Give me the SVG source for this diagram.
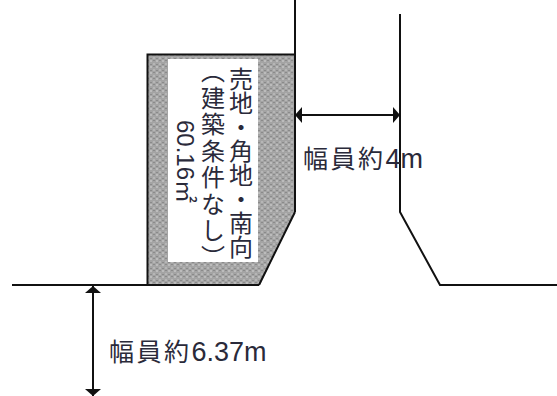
<svg xmlns="http://www.w3.org/2000/svg" width="557" height="396" viewBox="0 0 557 396">
<style>
.ln{fill:none;stroke:#111;stroke-width:2}
.t{font-family:"Noto Sans CJK JP","Liberation Sans",sans-serif;fill:#2a2a3a}
.v{font-size:24px;writing-mode:vertical-rl}
.h{font-size:25px;letter-spacing:2.5px}
.lat{font-family:"Liberation Sans",sans-serif;font-size:27px;letter-spacing:0}
</style>
<defs>
<pattern id="g" width="6" height="6" patternUnits="userSpaceOnUse">
<rect width="6" height="6" fill="#a4a4a4"/>
<rect x="0" y="0" width="2" height="2" fill="#bcbcbc"/>
<rect x="3" y="3" width="2" height="2" fill="#b6b6b6"/>
<rect x="3" y="0" width="2" height="1" fill="#8a8a8a"/>
<rect x="0" y="4" width="2" height="1" fill="#8a8a8a"/>
</pattern>
<marker id="a" viewBox="0 0 7 16" refX="7" refY="8" markerWidth="7" markerHeight="16" markerUnits="userSpaceOnUse" orient="auto-start-reverse"><path d="M0,0L7,8L0,16z" fill="#111"/></marker>
</defs>
<g id="lot">
<polygon points="148,55 295,55 295,212 260,285 148,285" fill="url(#g)"/>
<rect x="168" y="59" width="90" height="203" fill="#fff"/>
<path class="ln" d="M295,212L259,285M147.500,285V54.500H295"/>
<text class="t v" x="241" y="67">売地・角地・南向</text>
<text class="t v" x="213" y="59" letter-spacing="2.500">（建築条件なし）</text>
<text class="t" font-size="23" transform="translate(177,120) rotate(90)"><tspan class="lat" style="font-size:24px">60.16</tspan>㎡</text>
</g>
<g id="roads">
<path class="ln" d="M295,0V212M12,285H259"/>
<path class="ln" d="M400,14V212L440,285H557"/>
</g>
<g id="connectors">
<path class="ln" d="M295,115H400" marker-start="url(#a)" marker-end="url(#a)"/>
<path class="ln" d="M93,286V396" marker-start="url(#a)" marker-end="url(#a)"/>
</g>
<g id="labels">
<text class="t h" x="303" y="168">幅員約<tspan class="lat">4m</tspan></text>
<text class="t h" x="109" y="361">幅員約<tspan class="lat">6.37m</tspan></text>
</g>
</svg>
